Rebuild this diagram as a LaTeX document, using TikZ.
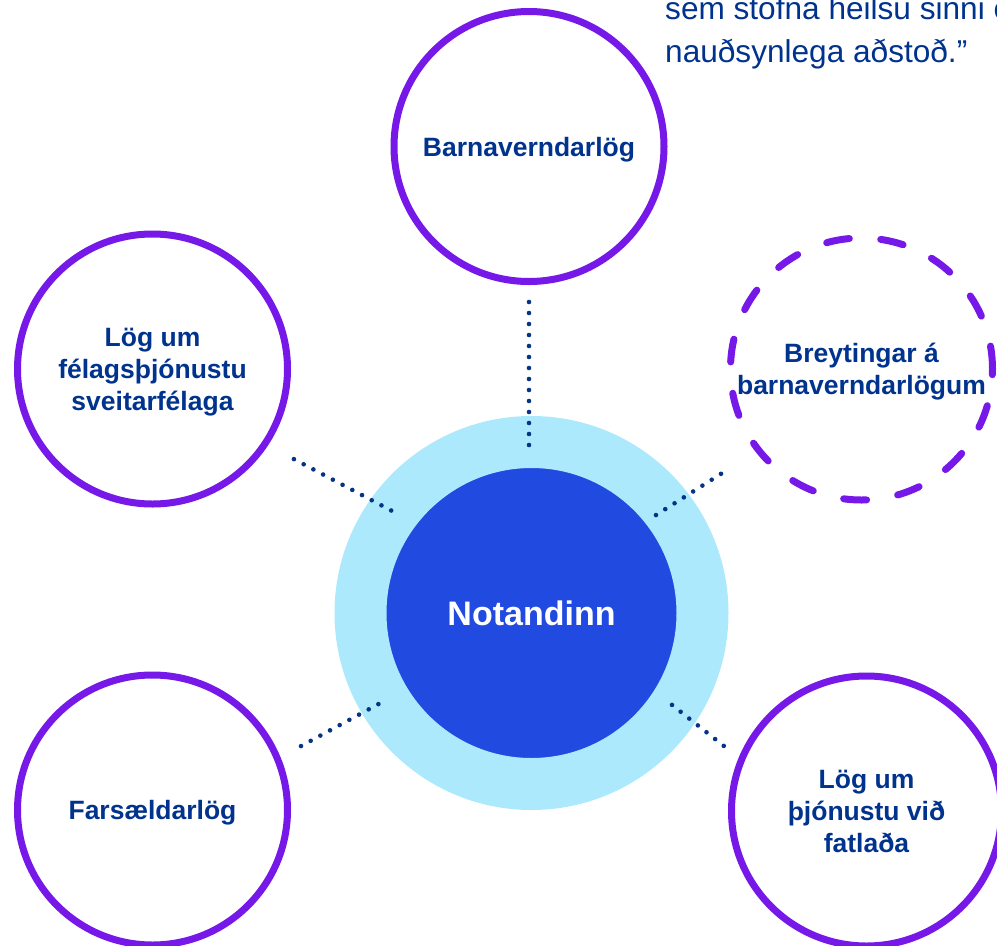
\documentclass[tikz,border=0pt]{standalone}
\usepackage{fontspec}
\setmainfont{Liberation Sans}
\usepackage{tkz-graph}
\usetikzlibrary{calc}

\definecolor{lawpurple}{RGB}{117,24,232}
\definecolor{lawnavy}{RGB}{0,51,141}
\definecolor{userblue}{RGB}{33,74,224}
\definecolor{userring}{RGB}{173,233,252}
\definecolor{dotnavy}{RGB}{3,52,133}

\begin{document}
\begin{tikzpicture}[x=1pt, y=1pt,
    spoke/.style={dotnavy, line width=4.6pt, line cap=round, dash pattern=on 0pt off 11pt},
    quote/.style={inner sep=0pt, anchor=base west, text=lawnavy, font=\fontsize{31.6}{38}\selectfont}]
        \useasboundingbox (0,0) rectangle (997,-946);
        \clip (0,0) rectangle (997,-946);
        \GraphInit[vstyle=Normal]
        \tikzset{VertexStyle/.style={shape=circle, draw=lawpurple, line width=7pt, fill=white,
            minimum size=270pt, inner sep=0pt, text=lawnavy, align=center,
            text depth=-4pt, font=\fontsize{26.5}{32}\selectfont\bfseries}}
        % the user in the middle
        \begin{scope}[VertexStyle/.append style={draw=userring, fill=userblue, line width=52pt,
            minimum size=342pt, text=white, text depth=0pt, font=\fontsize{34}{40}\selectfont\bfseries}]
          \Vertex[x=531.5, y=-613, L=Notandinn]{hub}
        \end{scope}
        % the laws around
        \Vertex[x=529, y=-146.5, L=Barnaverndarlög]{barna}
        \Vertex[x=152.5, y=-369, L={Lög um\\félagsþjónustu\\sveitarfélaga}]{felags}
        \Vertex[x=152.5, y=-810, L=Farsældarlög]{farsaeld}
        \begin{scope}[VertexStyle/.append style={dash pattern=on 23pt off 31.5pt, line cap=round,
            minimum size=262pt}]
          \Vertex[x=861.5, y=-369, L={Breytingar á\\barnaverndarlögum}]{breyting}
        \end{scope}
        \Vertex[x=866.5, y=-811, L={Lög um\\þjónustu við\\fatlaða}]{fatl}
        \draw[spoke] ($(barna)+(0,-155.5)$) -- ($(hub)+(-2.5,157)$);
        \draw[spoke] ($(felags)+(-32.5:167.7pt)$) -- ($(hub)+(143.8:172.8pt)$);
        \draw[spoke] ($(hub)+(38.2:158.4pt)$) -- ($(breyting)+(-143:164.6pt)$);
        \draw[spoke] ($(farsaeld)+(23.3:161.7pt)$) -- ($(hub)+(210.9:167.3pt)$);
        \draw[spoke] ($(hub)+(-33.2:167.9pt)$) -- ($(fatl)+(155.5:156.6pt)$);
        % quote, cut off at the corner
        \node[quote] (quote1) at (665,-19.5) {sem stofna heilsu sinni e};
        \node[quote] (quote2) at (665,-62) {nauðsynlega aðstoð.”};
      \end{tikzpicture}
\end{document}
